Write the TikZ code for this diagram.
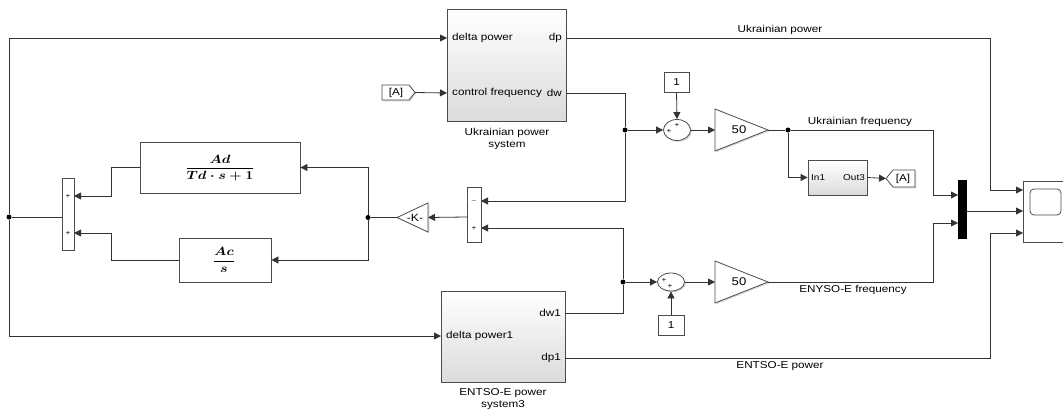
\documentclass[tikz,border=0pt]{standalone}
\usepackage[no-math]{fontspec}
\setmainfont{Liberation Sans}[FakeStretch=1.17]
\usepackage{amsmath}
\usepackage{graphicx}
\usetikzlibrary{arrows.meta,shadows,shapes.geometric}

\begin{document}
\begin{tikzpicture}[x=1pt,y=-1pt,
  wire/.style={draw=black!80, line width=0.8pt},
  arr/.style={wire, -{Triangle[length=7pt,width=7pt]}},
  shad/.style={drop shadow={shadow xshift=1.3pt,shadow yshift=-1.3pt,opacity=0.3}},
  blk/.style={draw=black!70, line width=0.8pt, fill=white, shad, inner sep=0pt},
  sub/.style={blk, top color=white, bottom color=black!14},
  txt/.style={font=\fontsize{10}{12.5}\selectfont, inner sep=0pt, text=black},
  small/.style={font=\fontsize{8.5}{10}\selectfont, inner sep=0pt, text=black},
  sign/.style={font=\fontsize{7}{7}\selectfont, inner sep=0pt},
  dot/.style={circle, fill=black, inner sep=0pt, minimum size=5pt},
  mathtxt/.style={inner sep=0pt},
]
\useasboundingbox (0,0) rectangle (1063,409);

% ---------- Ukrainian power system ----------
\node[sub, minimum width=119pt, minimum height=112pt] (ua) at (506.5,65) {};
\node[txt, anchor=west] (uaT1) at (452,38) {delta power};
\node[txt, anchor=west] (uaT2) at (452,93) {control frequency};
\node[txt, anchor=east] (uaT3) at (562,38) {dp};
\node[txt, anchor=east] (uaT4) at (562,93) {dw};
\node[txt, align=center] (uaCap) at (507,139) {Ukrainian power\\system};
\coordinate (uaIn1) at (447,38);
\coordinate (uaIn2) at (447,93);
\coordinate (uaDp) at (566,38);
\coordinate (uaDw) at (566,93);

% ---------- ENTSO-E power system ----------
\node[sub, minimum width=124pt, minimum height=91pt] (en) at (503,336.5) {};
\node[txt, anchor=west] (enT1) at (446,336) {delta power1};
\node[txt, anchor=east] (enT2) at (561,313) {dw1};
\node[txt, anchor=east] (enT3) at (561,358) {dp1};
\node[txt, align=center] (enCap) at (503,399) {ENTSO-E power\\system3};
\coordinate (enIn) at (441,336);
\coordinate (enDw) at (565,313);
\coordinate (enDp) at (565,358);

% ---------- From tag [A] ----------
\draw[blk] (382,85) -- (409,85) -- (415,92.5) -- (409,100) -- (382,100) -- cycle;
\node[txt] (fromA) at (396,92.5) {[A]};
\coordinate (fromOut) at (415,92.5);

% ---------- Goto tag [A] ----------
\draw[blk] (886,178.5) -- (893,170) -- (915,170) -- (915,187) -- (893,187) -- cycle;
\node[txt] (gotoA) at (903,178.5) {[A]};
\coordinate (gotoIn) at (886,178.5);

% ---------- In1 / Out3 subsystem ----------
\node[sub, minimum width=59pt, minimum height=35pt] (ss) at (837.5,177.5) {};
\node[small, anchor=west] (ssIn) at (811,178) {In1};
\node[small, anchor=east] (ssOut) at (865,178) {Out3};

% ---------- constants ----------
\node[blk, minimum width=25pt, minimum height=20pt, txt] (c1) at (676.5,82) {1};
\node[blk, minimum width=26pt, minimum height=20pt, txt] (c2) at (671,325) {1};

% ---------- sum circles ----------
\node[blk, ellipse, minimum width=27pt, minimum height=21pt] (s1) at (677,130) {};
\node[sign] (s1a) at (669,131.5) {+};
\node[sign] (s1b) at (677,125) {+};
\node[blk, ellipse, minimum width=27pt, minimum height=18pt] (s2) at (671,282) {};
\node[sign] (s2a) at (664,280) {+};
\node[sign] (s2b) at (670,286) {+};

% ---------- gains 50 ----------
\draw[blk] (715,109) -- (768,130) -- (715,151) -- cycle;
\node[font=\fontsize{11.2}{12}\selectfont, inner sep=0pt] (g1t) at (739,130) {50};
\coordinate (g1In) at (715,130);
\coordinate (g1Out) at (768,130);
\draw[blk] (715,261) -- (768,282) -- (715,303) -- cycle;
\node[font=\fontsize{11.2}{12}\selectfont, inner sep=0pt] (g2t) at (739,282) {50};
\coordinate (g2In) at (715,282);
\coordinate (g2Out) at (768,282);

% ---------- mux ----------
\node[fill=black, draw=black, minimum width=8pt, minimum height=58pt, inner sep=0pt, shad] (mux) at (962,209) {};
\coordinate (muxIn1) at (958,195);
\coordinate (muxIn2) at (958,223);
\coordinate (muxOut) at (966,211);

% ---------- scope ----------
\node[blk, minimum width=45pt, minimum height=61pt] (sc) at (1045.5,211.5) {};
\node[draw=black!70, line width=0.8pt, rounded corners=4pt, minimum width=31pt, minimum height=26pt, inner sep=0pt] (scr) at (1045.5,202) {};
\coordinate (scIn1) at (1023,190);
\coordinate (scIn2) at (1023,211);
\coordinate (scIn3) at (1023,233);

% ---------- middle sum ----------
\node[blk, minimum width=14pt, minimum height=55pt] (ms) at (474,214.5) {};
\node[sign] (msa) at (474,201) {$-$};
\node[sign] (msb) at (474,228) {+};
\coordinate (msIn1) at (481,201);
\coordinate (msIn2) at (481,228);
\coordinate (msOut) at (467,217);

% ---------- -K- gain ----------
\draw[blk] (428,203) -- (397,217.5) -- (428,232) -- cycle;
\node[font=\fontsize{10.5}{12}\selectfont, inner sep=0pt] (kt) at (415,217.5) {-K-};
\coordinate (kIn) at (428,217.5);
\coordinate (kOut) at (397,217.5);

% ---------- Ad and Ac blocks ----------
\node[blk, minimum width=160pt, minimum height=51pt] (ad) at (220,167.5) {};
\node[mathtxt] (adT) at (220,168) {\scalebox{1.18}[1]{\fontsize{12}{14}\selectfont$\dfrac{\boldsymbol{Ad}}{\boldsymbol{Td\cdot s+1}}$}};
\node[blk, minimum width=92pt, minimum height=44pt] (ac) at (225,260) {};
\node[mathtxt] (acT) at (224,260) {\scalebox{1.18}[1]{\fontsize{12}{14}\selectfont$\dfrac{\boldsymbol{Ac}}{\boldsymbol{s}}$}};

% ---------- left sum ----------
\node[blk, minimum width=12pt, minimum height=72pt] (ls) at (68,214) {};
\node[sign] (lsa) at (68,196) {+};
\node[sign] (lsb) at (68,233) {+};
\coordinate (lsIn1) at (74,196);
\coordinate (lsIn2) at (74,233);
\coordinate (lsOut) at (62,217);

% ---------- junctions ----------
\node[dot] (j0) at (9,217) {};
\node[dot] (jK) at (368,217.5) {};
\node[dot] (jU) at (625,130) {};
\node[dot] (jE) at (623,282) {};
\node[dot] (jF) at (788,130) {};

% ---------- wires ----------
\draw[wire] (lsOut) -- (j0);
\draw[arr] (j0) |- (uaIn1);
\draw[arr] (j0) |- (enIn);
\draw[arr] (ad.west) -- (111,167.5) |- (lsIn1);
\draw[arr] (ac.west) -- (111,260) |- (lsIn2);
\draw[wire] (kOut) -- (jK);
\draw[arr] (jK) |- (ad.east);
\draw[arr] (jK) |- (ac.east);
\draw[arr] (msOut) -- (kIn);
\draw[arr] (fromOut) -- (uaIn2);
\draw[wire] (uaDw) -| (jU);
\draw[arr] (jU) |- (msIn1);
\draw[arr] (jU) -- (s1.west);
\draw[arr] (c1.south) -- (s1.north);
\draw[arr] (s1.east) -- (g1In);
\draw[wire] (g1Out) -- (jF);
\draw[arr] (jF) -- (933,130) |- (muxIn1);
\draw[arr] (jF) |- (ss.west);
\draw[arr] (ss.east) -- (gotoIn);
\draw[arr] (uaDp) -- (990,38) |- (scIn1);
\draw[arr] (muxOut) -- (scIn2);
\draw[wire] (enDw) -| (jE);
\draw[arr] (jE) |- (msIn2);
\draw[arr] (jE) -- (s2.west);
\draw[arr] (c2.north) -- (s2.south);
\draw[arr] (s2.east) -- (g2In);
\draw[arr] (g2Out) -- (933,282) |- (muxIn2);
\draw[arr] (enDp) -- (990,358) |- (scIn3);

% ---------- wire labels ----------
\node[txt] (lblUP) at (780,30) {Ukrainian power};
\node[txt] (lblUF) at (860,122) {Ukrainian frequency};
\node[txt] (lblEF) at (853,290) {ENYSO-E frequency};
\node[txt] (lblEP) at (780,366) {ENTSO-E power};
\end{tikzpicture}
\end{document}
